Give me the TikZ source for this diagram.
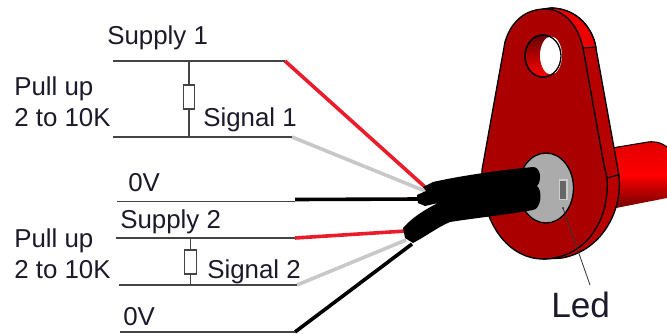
\documentclass[tikz,border=0pt]{standalone}
\usepackage{fontspec}
\setmainfont{Liberation Sans}
\definecolor{plate}{HTML}{AA0000}
\definecolor{sidered}{HTML}{B80000}
\definecolor{crescent}{HTML}{EE0000}
\definecolor{inkline}{HTML}{444444}
\definecolor{inktext}{HTML}{1A1A2A}
\definecolor{wirered}{HTML}{EA1C2C}
\definecolor{wiregrey}{HTML}{C8C8C8}
\definecolor{discgrey}{HTML}{ABABAB}
\tikzset{
  lbl/.style={anchor=base west,inner sep=0pt,text=inktext,font=\fontsize{19.4pt}{21pt}\selectfont},
  bigl/.style={anchor=base west,inner sep=0pt,text=inktext,font=\fontsize{26.4pt}{28pt}\selectfont},
  thinw/.style={draw=inkline,line width=.85pt},
  res/.style={draw=inkline,fill=white,line width=.85pt,rectangle,inner sep=0pt,minimum width=8.6pt,minimum height=18pt},
  wire/.style={line width=2.7pt},
  outline/.style={draw=black,line width=1pt,line join=round}
}
\begin{document}
\begin{tikzpicture}[x=.75pt,y=-.75pt]
\useasboundingbox (0,0) rectangle (667,333);
% texts
\node[lbl] (s1) at (107,44) {Supply 1};
\node[lbl] (p1) at (14,95) {Pull up};
\node[lbl] (k1) at (14,126) {2 to 10K};
\node[lbl] (g1) at (203,126) {Signal 1};
\node[lbl] (z1) at (128,191) {0V};
\node[lbl] (s2) at (120,228) {Supply 2};
\node[lbl] (p2) at (14,247) {Pull up};
\node[lbl] (k2) at (14,278) {2 to 10K};
\node[lbl] (g2) at (207,278) {Signal 2};
\node[lbl] (z2) at (123,325) {0V};
\node[bigl] (led) at (551,317) {Led};
% coordinates
\coordinate (a1) at (113,61);  \coordinate (b1) at (285,61);
\coordinate (a2) at (113,137); \coordinate (b2) at (292,137);
\coordinate (a3) at (117,201.5); \coordinate (b3) at (295,201.5);
\coordinate (a4) at (116,238); \coordinate (b4) at (295,238);
\coordinate (a5) at (119,285); \coordinate (b5) at (297,285);
\coordinate (a6) at (120,332); \coordinate (b6) at (295,332);
\coordinate (t1) at (189,61);  \coordinate (u1) at (189,137);
\coordinate (t2) at (190.5,238); \coordinate (u2) at (190.5,285);
\coordinate (e1) at (425,187); \coordinate (e2) at (425,191);
\coordinate (e3) at (418,199); \coordinate (e4) at (406,231);
\coordinate (e5) at (406,240); \coordinate (e6) at (412,244);
\coordinate (w3) at (295,199.5);
% cylinder
\path[top color=red!88!black,bottom color=red!45!black,middle color=red]
  (610,148) -- (648,142) .. controls (656,141) and (662,143) .. (667,147) -- (667,198) -- (616,208) -- cycle;
\draw[black,line width=.8pt] (612,148) -- (648,142) .. controls (656,141) and (662,143) .. (667,147);
% plate side
\path[outline,fill=sidered] (550,8) .. controls (575,8) and (590,25) .. (595,43)
  -- (618,170) .. controls (625,205) and (605,250) .. (562,258) -- (543,259) -- (543,9) -- cycle;
\path[fill=crescent] (550,8) .. controls (575,8) and (590,25) .. (595,44) -- (595,48) -- (583,48) .. controls (578,28) and (565,13) .. (550,9) -- cycle;
\draw[outline] (550,8) .. controls (575,8) and (590,25) .. (595,43) -- (596,48);
% plate front
\path[outline,fill=plate] (482,170) -- (505,42) .. controls (511,21) and (526,9) .. (545,9)
  .. controls (564,9) and (578,25) .. (583,48) -- (604,165) -- (607,178)
  .. controls (610,215) and (590,258) .. (543,259) .. controls (510,259) and (480,225) .. (482,170) -- cycle;
\draw[black,line width=.8pt] (583,48) -- (596,47);
\draw[black,line width=.8pt] (607,178) -- (618,175);
% hole
\path[outline,top color=red!40!black,bottom color=red] (543,56) ellipse [x radius=18,y radius=21];
\path[fill=white] (551,55.5) ellipse [x radius=11,y radius=19];
\draw[outline] (543,56) ellipse [x radius=18,y radius=21];
% disc
\path[outline,fill=discgrey] (546,188) ellipse [x radius=27.5,y radius=35];
\path[draw=discgrey!60!white,fill=black!60,line width=.8pt] (559.5,180) rectangle (567,199.5);
% wires
\draw[wire,wirered] (b1) -- (e1);
\draw[wire,wiregrey] (b2) -- (e2);
\draw[wire,black] (w3) -- (e3);
\draw[wire,wirered] (b4) -- (e4);
\draw[wire,wiregrey] (b5) -- (e5);
\draw[wire,black] (b6) -- (e6);
% cables
\fill[black] (423,187) -- (433,182) .. controls (450,178) and (490,171) .. (533,167)
  .. controls (541,167) and (542,181) .. (537,186)
  .. controls (543,191) and (541,209) .. (533,210)
  .. controls (505,215) and (475,218) .. (450,222)
  .. controls (438,227) and (428,235) .. (413,243)
  -- (405,238) -- (403,228)
  .. controls (410,220) and (420,212) .. (438,203)
  -- (425,206) -- (418,203) -- (417,195) -- (426,191) -- cycle;
% led leader
\fill[black] (563,208) circle [radius=.9];
\draw[black!80,line width=.6pt] (563,208) -- (590,285);
% thin lines
\draw[thinw] (a1) -- (b1);
\draw[thinw] (a2) -- (b2);
\draw[thinw] (a3) -- (b3);
\draw[thinw] (a4) -- (b4);
\draw[thinw] (a5) -- (b5);
\draw[thinw] (a6) -- (b6);
\draw[thinw] (t1) -- (u1);
\draw[thinw] (t2) -- (u2);
\node[res] (r1) at (189,97) {};
\node[res] (r2) at (190.5,262) {};
\end{tikzpicture}
\end{document}
